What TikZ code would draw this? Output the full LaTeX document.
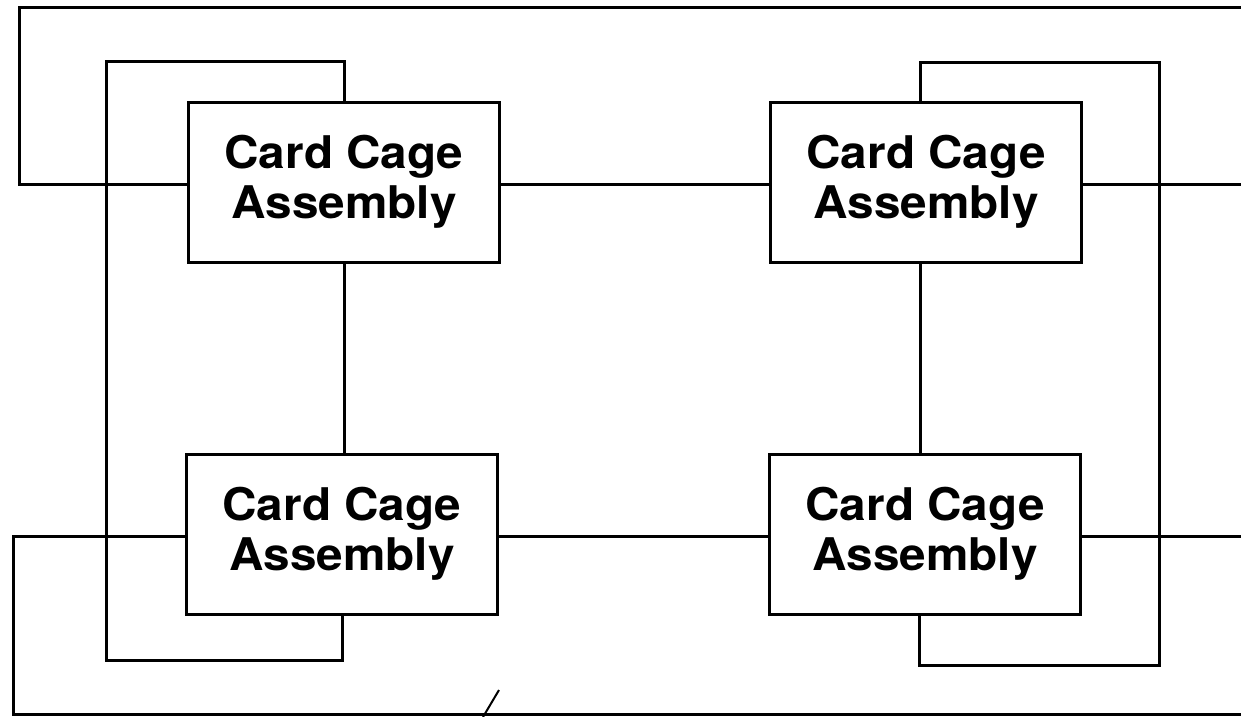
\documentclass[tikz,border=0pt]{standalone}
\usepackage{fontspec}
\setmainfont{TeX Gyre Heros}
\newcommand\wideline[1]{\scalebox{1.06}[1]{#1}}
\begin{document}
\begin{tikzpicture}[x=1pt,y=-1pt,line join=miter,
  cage/.style={draw,line width=3pt,fill=white,minimum width=311pt,minimum height=160pt,inner sep=0pt,align=center,
    font=\fontsize{45}{50}\selectfont\bfseries},
  wire/.style={draw,line width=3pt}]
\useasboundingbox (0,0) rectangle (1241,716);
\fill[white] (0,0) rectangle (1241,716);
% boxes
\node[cage] (TL) at (344,182) {\wideline{Card Cage}\\\wideline{Assembly}};
\node[cage] (TR) at (926,182) {\wideline{Card Cage}\\\wideline{Assembly}};
\node[cage] (BL) at (342,534) {\wideline{Card Cage}\\\wideline{Assembly}};
\node[cage] (BR) at (925,534) {\wideline{Card Cage}\\\wideline{Assembly}};
% coordinates
\coordinate (A1) at (19,7);
\coordinate (A2) at (1241,7);
\coordinate (RT) at (1241,184);
\coordinate (RB) at (1241,536);
\coordinate (L1) at (106,61);
\coordinate (L2) at (106,660);
\coordinate (R1) at (1159,62);
\coordinate (R2) at (1159,665);
\coordinate (B1) at (13,714);
\coordinate (B2) at (1241,714);
\coordinate (S1) at (483,717);
\coordinate (S2) at (499,690);
% outer top loop
\draw[wire] ([yshift=-2pt]TL.west) -| (A1) -- (A2);
\draw[wire] ([yshift=-2pt]TL.east) -- ([yshift=-2pt]TR.west);
\draw[wire] ([yshift=-2pt]TR.east) -- (RT);
% left inner loop
\draw[wire] (TL.north) |- (L1) -- (L2) -| (BL.south);
\draw[wire] (TL.south) -- (TL.south |- BL.north);
% right inner loop
\draw[wire] ([xshift=-6pt]TR.north) |- (R1) -- (R2) -| ([xshift=-6pt]BR.south);
\draw[wire] ([xshift=-6pt]TR.south) -- ([xshift=-6pt]TR.south |- BR.north);
% outer bottom loop
\draw[wire] ([yshift=-2pt]BL.west) -| (B1) -- (B2);
\draw[wire] ([yshift=-2pt]BL.east) -- ([yshift=-2pt]BR.west);
\draw[wire] ([yshift=-2pt]BR.east) -- (RB);
% slash mark
\draw[line width=2pt] (S1) -- (S2);
\end{tikzpicture}
\end{document}
